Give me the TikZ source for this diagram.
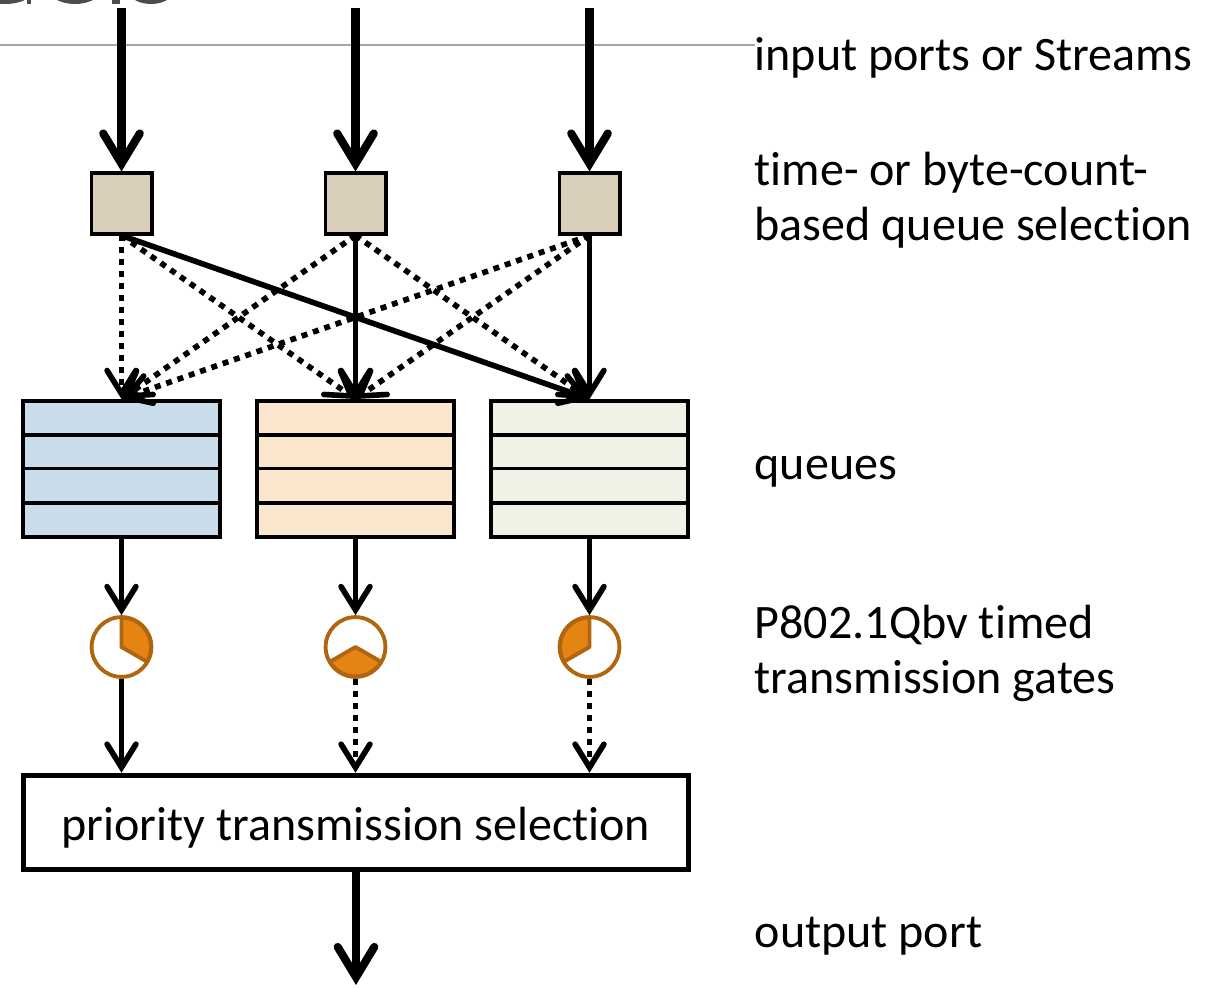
\documentclass[tikz,border=0pt]{standalone}
\usepackage{fontspec}
\setmainfont[Ligatures=NoCommon]{Carlito}
\usetikzlibrary{arrows.meta}
\definecolor{selfill}{HTML}{D8CEB9}
\definecolor{blueq}{HTML}{C9DCE9}
\definecolor{orangeq}{HTML}{FBE6CE}
\definecolor{greenq}{HTML}{F0F1E4}
\definecolor{gatefill}{HTML}{E68413}
\definecolor{gateline}{HTML}{B0660F}
\tikzset{
  selbox/.style={draw, line width=0.9pt, fill=selfill, minimum size=17.3pt, inner sep=0pt},
  queuebox/.style={draw, line width=1.1pt, minimum width=56pt, minimum height=38.7pt, inner sep=0pt},
  gate/.style={circle, draw=gateline, line width=1.1pt, fill=white, minimum size=17pt, inner sep=0pt},
  slice/.style={fill=gatefill, draw=gateline, line width=1.1pt, line join=round},
  bigarrow/.style={line width=2.3pt, -{Straight Barb[length=8.6pt,width=10.4pt,line cap=round]}},
  midarrow/.style={line width=1.6pt, -{Straight Barb[length=6.6pt,width=8.2pt,line cap=round]}},
  dotarrow/.style={midarrow, dash pattern=on 1.7pt off 1.7pt},
  sidelabel/.style={anchor=west, inner sep=0pt, align=left, font=\fontsize{13.66pt}{15.6pt}\selectfont},
}
\begin{document}
\begin{tikzpicture}[x=0.01cm, y=0.01cm]
  \useasboundingbox (0,0) rectangle (1216,987);

  % Bottoms of the cut off title
  \begin{scope}
    \clip (0,0) rectangle (1216,987);
    \fill[black!70] (5,1000) ellipse (31 and 17);
    \fill[black!70] (27,983) rectangle (31,987);
    \fill[black!70] (75,1000) ellipse (28 and 17);
    \fill[black!70] (112,983) rectangle (120,987);
    \fill[black!70] (151,1000) ellipse (25 and 17);
  \end{scope}

  % Rule under the title
  \draw[black!35, line width=0.4pt] (0,942) -- (755,942);

  % Input ends
  \coordinate (in1) at (121.5,979);
  \coordinate (in2) at (355.5,979);
  \coordinate (in3) at (589.5,979);
  \coordinate (out) at (356,2);

  % Selection boxes, queues, gates
  \foreach \n/\x/\c in {1/121.5/blueq, 2/355.5/orangeq, 3/589.5/greenq} {
    \node[selbox] (sel\n) at (\x,783.5) {};
    \node[queuebox, fill=\c] (queue\n) at (\x,518) {};
    \node[gate] (gate\n) at (\x,340) {};
    \foreach \y in {552,518.5,484}
      \draw[line width=1pt] (\x-98.5,\y) -- (\x+98.5,\y);
  }

  % Pie slices of the gates
  \draw[slice] (gate1.center) -- ++(90:29.5) arc (90:-30:29.5) -- cycle;
  \draw[slice] (gate2.center) -- ++(210:29.5) arc (210:330:29.5) -- cycle;
  \draw[slice] (gate3.center) -- ++(90:29.5) arc (90:210:29.5) -- cycle;

  % Priority box
  \node[draw, line width=1.5pt, minimum width=189pt, minimum height=26.8pt, inner sep=0pt,
        font=\fontsize{13.66pt}{15.6pt}\selectfont] (prio) at (356,164.5) {\raisebox{-5.1pt}[0pt][0pt]{priority transmission selection}};

  % Inputs and output
  \foreach \n in {1,2,3}
    \draw[bigarrow] (in\n) -- (sel\n.north);
  \draw[bigarrow] (prio.south) -- (out);

  % Selection to queues
  \draw[dotarrow] (sel1.south) -- (queue1.north);
  \draw[dotarrow] (sel1.south) -- (queue2.north);
  \draw[midarrow] (sel1.south) -- (queue3.north);
  \draw[dotarrow] (sel2.south) -- (queue1.north);
  \draw[midarrow] (sel2.south) -- (queue2.north);
  \draw[dotarrow] (sel2.south) -- (queue3.north);
  \draw[dotarrow] (sel3.south) -- (queue1.north);
  \draw[dotarrow] (sel3.south) -- (queue2.north);
  \draw[midarrow] (sel3.south) -- (queue3.north);

  % Queues to gates, gates to priority box
  \foreach \n in {1,2,3}
    \draw[midarrow] (queue\n.south) -- (gate\n.north);
  \draw[midarrow] (gate1.south) -- (gate1.south |- prio.north);
  \draw[dotarrow] (gate2.south) -- (gate2.south |- prio.north);
  \draw[dotarrow] (gate3.south) -- (gate3.south |- prio.north);

  % Labels on the right
  \node[sidelabel] (lblin) at (754,929) {input ports or Streams};
  \node[sidelabel] (lblsel) at (754,786.5) {time- or byte-count-\\based queue selection};
  \node[sidelabel] (lblqueue) at (754,515.5) {queues};
  \node[sidelabel] (lblgate) at (754,333.5) {P802.1Qbv timed\\transmission gates};
  \node[sidelabel] (lblout) at (754,51) {output port};
\end{tikzpicture}
\end{document}
